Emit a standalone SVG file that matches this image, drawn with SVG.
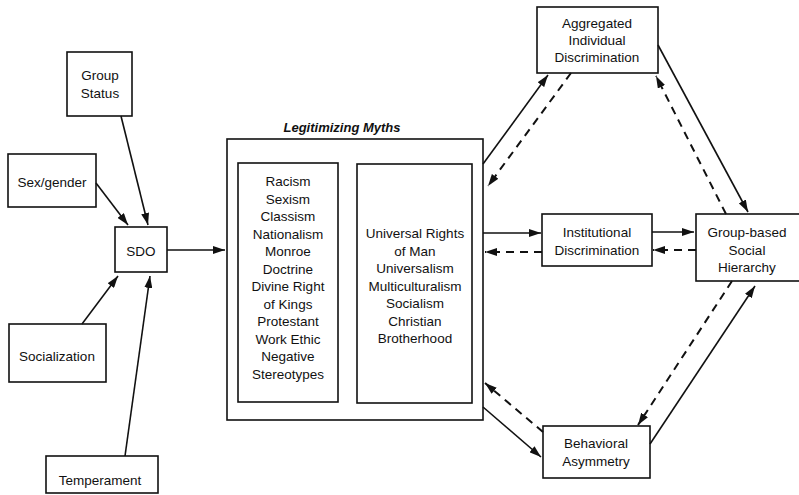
<svg xmlns="http://www.w3.org/2000/svg" width="799" height="495" viewBox="0 0 799 495">
<style>
.box{fill:#fff;stroke:#111;stroke-width:1.6}
.t{font-family:"Liberation Sans",Arial,sans-serif;font-size:13.5px;fill:#111;text-anchor:middle}
.ti{font-family:"Liberation Sans",Arial,sans-serif;font-size:13px;font-weight:bold;font-style:italic;fill:#111;text-anchor:middle}
.s{stroke:#111;stroke-width:1.6;fill:none;marker-end:url(#ah)}
.d{stroke:#111;stroke-width:2;fill:none;stroke-dasharray:8 6;marker-end:url(#ah)}
</style>
<defs>
<marker id="ah" markerUnits="userSpaceOnUse" markerWidth="13" markerHeight="8" refX="12" refY="4" orient="auto">
<path d="M0,0 L12,4 L0,8 z" fill="#111"/>
</marker>
</defs>
<rect width="799" height="495" fill="#fff"/>
<g id="group-status"><rect class="box" x="67" y="52" width="65" height="64"/><text class="t" x="100" y="80">Group</text><text class="t" x="100" y="98">Status</text></g>
<g id="sex-gender"><rect class="box" x="8" y="154" width="88" height="53"/><text class="t" x="52" y="187">Sex/gender</text></g>
<g id="sdo"><rect class="box" x="115" y="227" width="52" height="45"/><text class="t" x="141" y="256">SDO</text></g>
<g id="socialization"><rect class="box" x="9" y="324" width="97" height="58"/><text class="t" x="57" y="361">Socialization</text></g>
<g id="temperament"><rect class="box" x="46" y="456" width="112" height="37"/><text class="t" x="100" y="485">Temperament</text></g>
<g id="legitimizing-myths">
<text class="ti" x="342" y="132">Legitimizing Myths</text>
<rect class="box" x="227" y="139" width="256" height="281"/>
<rect class="box" x="238" y="163" width="100" height="239"/>
<rect class="box" x="357" y="164" width="115" height="239"/>
<text class="t" x="288" y="186">Racism</text>
<text class="t" x="288" y="203.5">Sexism</text>
<text class="t" x="288" y="221">Classism</text>
<text class="t" x="288" y="238.5">Nationalism</text>
<text class="t" x="288" y="256">Monroe</text>
<text class="t" x="288" y="273.5">Doctrine</text>
<text class="t" x="288" y="291">Divine Right</text>
<text class="t" x="288" y="308.5">of Kings</text>
<text class="t" x="288" y="326">Protestant</text>
<text class="t" x="288" y="343.5">Work Ethic</text>
<text class="t" x="288" y="361">Negative</text>
<text class="t" x="288" y="378.5">Stereotypes</text>
<text class="t" x="415" y="238">Universal Rights</text>
<text class="t" x="415" y="255.5">of Man</text>
<text class="t" x="415" y="273">Universalism</text>
<text class="t" x="415" y="290.5">Multiculturalism</text>
<text class="t" x="415" y="308">Socialism</text>
<text class="t" x="415" y="325.5">Christian</text>
<text class="t" x="415" y="343">Brotherhood</text>
</g>
<g id="aggregated"><rect class="box" x="537" y="7" width="121" height="66"/><text class="t" x="597" y="28">Aggregated</text><text class="t" x="597" y="45">Individual</text><text class="t" x="597" y="62">Discrimination</text></g>
<g id="institutional"><rect class="box" x="542" y="214" width="110" height="52"/><text class="t" x="597" y="237">Institutional</text><text class="t" x="597" y="255">Discrimination</text></g>
<g id="hierarchy"><rect class="box" x="696" y="214" width="110" height="67"/><text class="t" x="747" y="237">Group-based</text><text class="t" x="747" y="255">Social</text><text class="t" x="747" y="272">Hierarchy</text></g>
<g id="behavioral"><rect class="box" x="543" y="426" width="107" height="52"/><text class="t" x="596" y="448">Behavioral</text><text class="t" x="596" y="466">Asymmetry</text></g>
<g id="connectors">
<line class="s" x1="121" y1="116" x2="148" y2="225"/>
<line class="s" x1="96" y1="183" x2="128" y2="225"/>
<line class="s" x1="82" y1="324" x2="118" y2="276"/>
<line class="s" x1="125" y1="456" x2="150" y2="276"/>
<line class="s" x1="167" y1="250" x2="225" y2="250"/>
<line class="s" x1="483" y1="164" x2="548" y2="75"/>
<line class="d" x1="571" y1="73" x2="488" y2="186"/>
<line class="s" x1="658" y1="45" x2="748" y2="212"/>
<line class="d" x1="726" y1="214" x2="656" y2="76"/>
<line class="s" x1="483" y1="233" x2="541" y2="233"/>
<line class="d" x1="542" y1="252" x2="485" y2="252"/>
<line class="s" x1="652" y1="232" x2="694" y2="232"/>
<line class="d" x1="696" y1="250" x2="653" y2="250"/>
<line class="s" x1="483" y1="407" x2="541" y2="457"/>
<line class="d" x1="543" y1="432" x2="485" y2="383"/>
<line class="s" x1="650" y1="444" x2="755" y2="286"/>
<line class="d" x1="732" y1="281" x2="638" y2="425"/>
</g>
</svg>
